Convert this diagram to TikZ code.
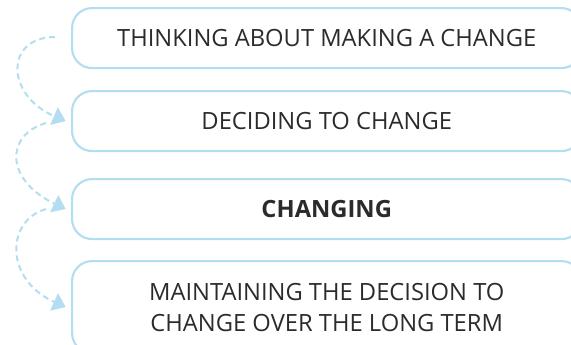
\documentclass[tikz,border=0pt]{standalone}
\usepackage{fontspec}
\setmainfont{Open Sans}
\usetikzlibrary{arrows.meta}
\definecolor{lblue}{HTML}{B3DEF1}
\definecolor{txt}{HTML}{2B2B2B}
\tikzset{
  stagebox/.style={draw=lblue, line width=1.6pt, rounded corners=15pt,
    minimum width=382pt, anchor=north west, align=center,
    text=txt, font=\fontsize{17.8}{23.3}\selectfont, inner sep=0pt},
  loop/.style={draw=lblue, line width=1.5pt, dash pattern=on 4.5pt off 3pt,
    -{Triangle[length=9.5pt,width=14pt,fill=lblue]}}
}
\begin{document}
\begin{tikzpicture}[x=0.75pt,y=-0.75pt]
\useasboundingbox (0,0) rectangle (571,344);
\node[stagebox, minimum height=45pt] (b1) at (71,7) {THINKING ABOUT MAKING A CHANGE};
\node[stagebox, minimum height=45pt] (b2) at (71,90) {DECIDING TO CHANGE};
\node[stagebox, minimum height=45pt] (b3) at (71,178) {\bfseries CHANGING};
\node[stagebox, minimum height=69pt] (b4) at (71,260) {MAINTAINING THE DECISION TO\\CHANGE OVER THE LONG TERM};
\coordinate (s1) at (55,37);
\coordinate (s2) at (46,123);
\coordinate (s3) at (46,209);
\coordinate (e1) at ([xshift=-4pt]b2.west);
\coordinate (e2) at ([xshift=-4pt]b3.west);
\coordinate (e3) at ([xshift=-4pt]b4.west);
\draw[loop] (s1) .. controls (5,37) and (5,95) .. (e1);
\draw[loop] (s2) .. controls (5,135) and (5,180) .. (e2);
\draw[loop] (s3) .. controls (5,221) and (5,280) .. (e3);
\end{tikzpicture}
\end{document}
